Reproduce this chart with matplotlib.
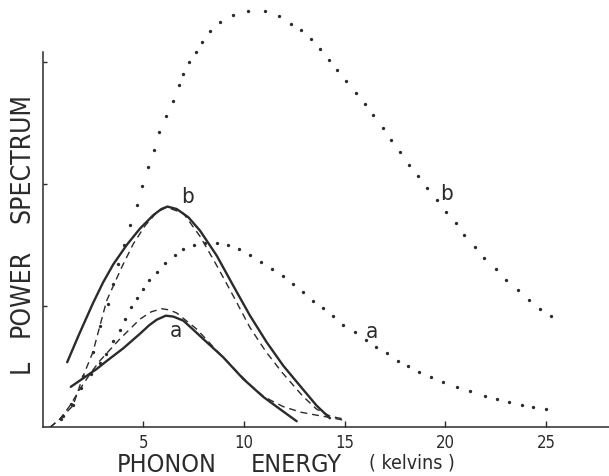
import numpy as np
import matplotlib
matplotlib.use("Agg")
import matplotlib.pyplot as plt
from matplotlib import font_manager as fm

# the lettering in the original is a tall condensed sans; use one if installed
narrow = [f.fname for f in fm.fontManager.ttflist
          if any(k in f.fname.lower() for k in ('narrow', 'condensed'))
          and not any(k in f.fname.lower() for k in ('bold', 'italic', 'oblique', 'mono', 'serif', 'light'))]
if narrow:
    FP = dict(fontproperties=fm.FontProperties(fname=sorted(narrow)[0]))
else:
    FP = dict(family=['Roboto', 'DejaVu Sans'])

# curve data (x in kelvins, y in tick units)
solid_b_x = [1.22, 1.8, 2.5, 3.0, 3.51, 4.18, 4.84, 5.5, 5.9, 6.2, 6.66, 7.24, 7.82, 8.65, 9.47, 10.3, 11.13, 11.95, 12.78, 13.61, 14.27]
solid_b_y = [0.535, 0.76, 1.02, 1.19, 1.34, 1.50, 1.635, 1.745, 1.795, 1.815, 1.795, 1.727, 1.617, 1.411, 1.164, 0.918, 0.699, 0.507, 0.342, 0.178, 0.074]

dash_b_x = [0.37, 0.86, 1.51, 2.02, 2.50, 2.85, 3.18, 3.93, 4.50, 5.09, 5.67, 6.16, 6.99, 7.82, 8.65, 9.47, 10.3, 11.1, 11.9, 12.9, 13.6, 14.3, 14.9]
dash_b_y = [0.0, 0.068, 0.178, 0.424, 0.619, 0.836, 1.041, 1.316, 1.507, 1.658, 1.768, 1.81, 1.76, 1.57, 1.33, 1.08, 0.82, 0.62, 0.45, 0.26, 0.15, 0.09, 0.07]

solid_a_x = [1.40, 2.69, 3.18, 4.01, 4.84, 5.3, 5.67, 6.12, 6.5, 6.99, 7.5, 7.98, 8.97, 9.97, 10.96, 11.95, 12.62]
solid_a_y = [0.333, 0.48, 0.545, 0.65, 0.77, 0.84, 0.885, 0.918, 0.91, 0.877, 0.80, 0.726, 0.576, 0.397, 0.25, 0.13, 0.05]

dash_a_x = [0.37, 0.86, 1.36, 1.86, 2.35, 2.85, 3.84, 4.84, 5.4, 5.92, 6.3, 6.66, 7.65, 8.65, 9.64, 10.3, 11.0, 11.95, 12.8, 13.6, 14.3, 14.9]
dash_a_y = [0.0, 0.068, 0.178, 0.315, 0.438, 0.548, 0.727, 0.89, 0.95, 0.975, 0.965, 0.94, 0.808, 0.63, 0.46, 0.35, 0.25, 0.17, 0.125, 0.10, 0.08, 0.06]

dot_b_x = [1.0, 1.51, 2.02, 2.50, 2.85, 3.25, 3.51, 3.76, 4.05, 4.34, 4.67, 4.92, 5.21, 5.52, 5.79, 6.14, 6.49, 6.75,
           6.99, 7.29, 7.60, 7.93, 8.31, 8.83, 9.44, 10.22, 11.05, 11.73, 12.32, 12.85, 13.33, 13.76, 14.24, 14.64,
           15.08, 15.55, 16.0, 16.42, 16.89, 17.32, 17.75, 18.20, 18.66, 19.11, 19.57, 20.03, 20.52, 20.94, 21.49,
           21.94, 22.50, 23.01, 23.61, 24.14, 24.70, 25.23]
dot_b_y = [0.09, 0.18, 0.42, 0.62, 0.83, 1.01, 1.178, 1.343, 1.50, 1.664, 1.828, 1.987, 2.138, 2.283, 2.426, 2.558, 2.686, 2.815,
           2.905, 3.00, 3.09, 3.17, 3.26, 3.33, 3.39, 3.42, 3.42, 3.38, 3.32, 3.27, 3.19, 3.11, 3.02, 2.94,
           2.85, 2.75, 2.66, 2.568, 2.461, 2.363, 2.266, 2.160, 2.064, 1.968, 1.872, 1.773, 1.678, 1.584, 1.483,
           1.390, 1.299, 1.211, 1.127, 1.047, 0.973, 0.913]

dot_a_x = [0.9, 1.4, 1.9, 2.4, 2.85, 3.15, 3.51, 3.84, 4.09, 4.38, 4.67, 4.97, 5.30, 5.67, 6.08, 6.58, 6.99, 7.53,
           8.07, 8.65, 9.22, 9.77, 10.30, 10.83, 11.38, 11.92, 12.45, 12.95, 13.44, 13.91, 14.41, 14.93, 15.51,
           16.05, 16.56, 17.09, 17.64, 18.15, 18.71, 19.27, 19.87, 20.57, 21.23, 21.96, 22.58, 23.16, 23.81, 24.37, 24.99]
dot_a_y = [0.07, 0.19, 0.32, 0.44, 0.53, 0.603, 0.712, 0.803, 0.891, 0.987, 1.063, 1.137, 1.211, 1.28, 1.349, 1.417, 1.466, 1.499,
           1.516, 1.516, 1.499, 1.466, 1.417, 1.362, 1.302, 1.242, 1.176, 1.110, 1.041, 0.979, 0.918, 0.844, 0.781,
           0.720, 0.658, 0.609, 0.548, 0.502, 0.457, 0.411, 0.375, 0.331, 0.298, 0.260, 0.233, 0.206, 0.183, 0.169, 0.150]

xticks = [5, 10, 15, 20, 25]
yticks = [1, 2, 3]

W, H = 609, 477
fig = plt.figure(figsize=(W/100, H/100), dpi=100)
ax = fig.add_axes([42.6/W, 48.7/H, 1 - 42.6/W, 428.3/H])
ax.set_xlim(0, 28.13)
ax.set_ylim(0, 3.522)

ink = '#2b2b2b'
ax.plot(solid_b_x, solid_b_y, color=ink, lw=1.7, solid_capstyle='round', solid_joinstyle='round')
ax.plot(solid_a_x, solid_a_y, color=ink, lw=1.7, solid_capstyle='round', solid_joinstyle='round')
ax.plot(dash_b_x, dash_b_y, color=ink, lw=1.0, dashes=(5, 3.5))
ax.plot(dash_a_x, dash_a_y, color=ink, lw=1.0, dashes=(5, 3.5))
ax.plot(dot_b_x, dot_b_y, ls='none', marker='o', ms=2.4, color=ink, mew=0)
ax.plot(dot_a_x, dot_a_y, ls='none', marker='o', ms=2.4, color=ink, mew=0)

# curve labels
lab = dict(fontsize=16, color=ink, ha='center', va='center', **FP)
ax.text(7.2, 1.90, 'b', **lab)
ax.text(6.6, 0.80, 'a', **lab)
ax.text(20.07, 1.93, 'b', **lab)
ax.text(16.37, 0.79, 'a', **lab)

for s in ['top', 'right']:
    ax.spines[s].set_visible(False)
ax.spines['left'].set_bounds(0, 3.086)
for s in ['left', 'bottom']:
    ax.spines[s].set_color(ink)
    ax.spines[s].set_linewidth(1.1)

ax.set_xticks(xticks)
ax.set_xticklabels([str(t) for t in xticks], **FP)
ax.set_yticks(yticks)
ax.tick_params(axis='x', direction='in', length=4, width=1, pad=4, labelsize=12, colors=ink)
ax.tick_params(axis='y', direction='in', length=3, width=1, labelleft=False, colors=ink)

def fx(x, y):
    return x/W, 1 - y/H

# axis titles placed word by word like the original lettering
ttl = dict(color=ink, ha='center', va='center', **FP)
fig.text(*fx(166.5, 465), 'PHONON', fontsize=18, **ttl)
fig.text(*fx(296.5, 465), 'ENERGY', fontsize=18, **ttl)
fig.text(*fx(412, 463), '( kelvins )', fontsize=14, **ttl)
fig.text(*fx(22, 158), 'SPECTRUM', fontsize=19, rotation=90, **ttl)
fig.text(*fx(22, 293), 'POWER', fontsize=19, rotation=90, **ttl)
fig.text(*fx(22, 366), 'L', fontsize=19, rotation=90, **ttl)

fig.savefig('out.png', dpi=100)
